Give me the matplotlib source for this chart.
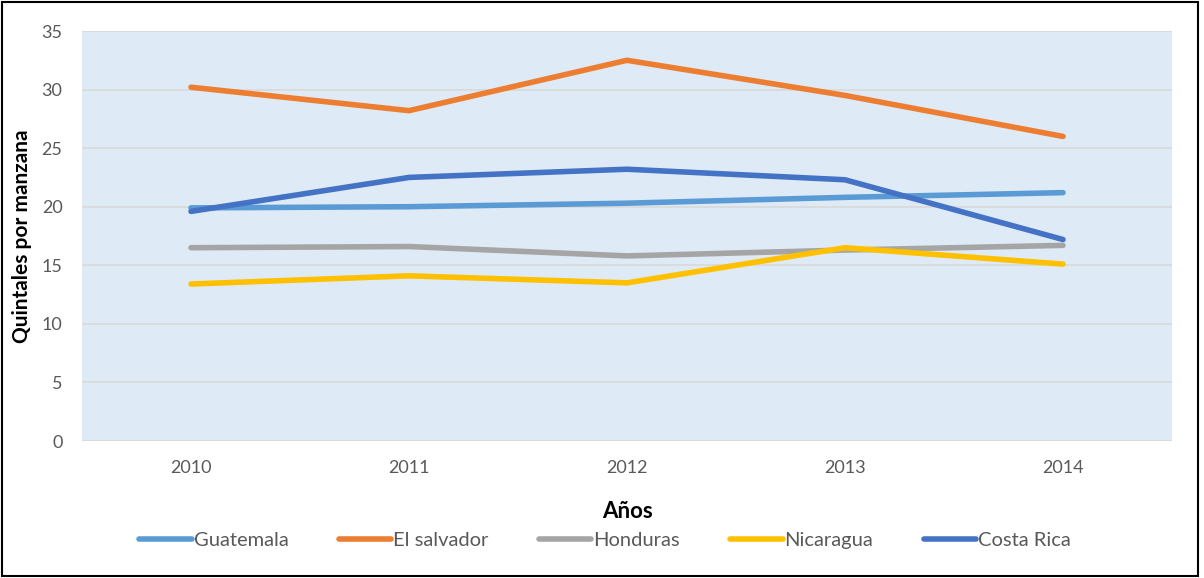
import matplotlib.pyplot as plt
from matplotlib.patches import Rectangle

# Data
years = ['2010', '2011', '2012', '2013', '2014']
guatemala = [19.9, 20.0, 20.3, 20.8, 21.2]
el_salvador = [30.2, 28.2, 32.5, 29.5, 26.0]
honduras = [16.5, 16.6, 15.8, 16.3, 16.7]
nicaragua = [13.4, 14.1, 13.5, 16.5, 15.1]
costa_rica = [19.6, 22.5, 23.2, 22.3, 17.2]

series = [
    ('Guatemala', guatemala, '#5B9BD5'),
    ('El salvador', el_salvador, '#ED7D31'),
    ('Honduras', honduras, '#A5A5A5'),
    ('Nicaragua', nicaragua, '#FFC000'),
    ('Costa Rica', costa_rica, '#4472C4'),
]

plt.rcParams['font.family'] = ['Lato', 'DejaVu Sans']

fig = plt.figure(figsize=(12.04, 5.78), dpi=100)
ax = fig.add_axes([82 / 1204, 1 - 441 / 578, 1090 / 1204, 410 / 578])
ax.set_facecolor('#DEEAF6')

x = range(len(years))
for name, vals, color in series:
    ax.plot(x, vals, color=color, lw=4, label=name, solid_capstyle='round')

ax.set_xlim(-0.5, 4.5)
ax.set_ylim(0, 35)
ax.set_yticks(range(0, 36, 5))
ax.set_xticks(list(x))
ax.set_xticklabels(years)
ax.yaxis.grid(True, color='#D9D9D9', lw=1.2)
ax.set_axisbelow(True)
for s in ax.spines.values():
    s.set_visible(False)
ax.tick_params(length=0, labelsize=13, labelcolor='#595959')
ax.tick_params(axis='x', pad=14)
ax.tick_params(axis='y', pad=14)

fig.text(22 / 1204, 1 - 236 / 578, 'Quintales por manzana', rotation=90,
         ha='center', va='center', fontsize=15, fontweight='bold')
fig.text(628 / 1204, 1 - 512 / 578, 'Años', ha='center', va='center',
         fontsize=16, fontweight='bold')

leg = fig.legend(loc='center', bbox_to_anchor=(605 / 1204, 1 - 540 / 578),
                 ncol=5, frameon=False, fontsize=14.5, handlelength=2.6,
                 handletextpad=0.1, columnspacing=2.5)
for t in leg.get_texts():
    t.set_color('#595959')

# outer frame
fig.patches.append(Rectangle((0.002, 0.003), 0.993, 0.994, transform=fig.transFigure,
                             fill=False, edgecolor='black', lw=1.5))

fig.savefig('out.png', dpi=100)
